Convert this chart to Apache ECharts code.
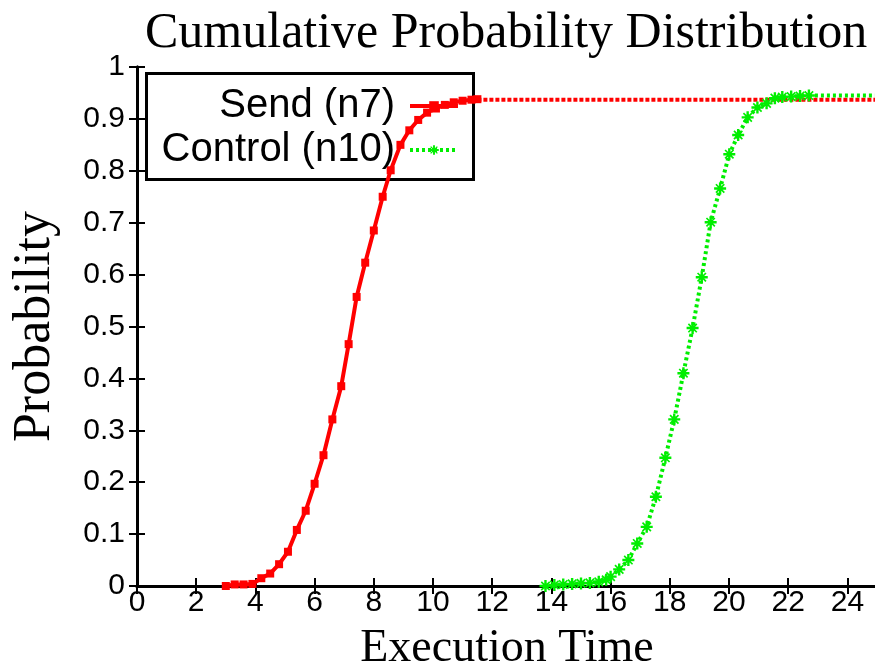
<!DOCTYPE html>
<html>
<head>
<meta charset="utf-8">
<script src="https://cdn.jsdelivr.net/npm/echarts@6/dist/echarts.min.js"></script>
<style>
  html, body { margin: 0; padding: 0; background: #fff; }
  #chart { width: 875px; height: 671px; }
</style>
</head>
<body>
<div id="chart"></div>
<script>
// values
const sendTime = [3.0, 3.3, 3.6, 3.9, 4.2, 4.5, 4.8, 5.1, 5.4, 5.7, 6.0, 6.3, 6.6, 6.9, 7.15, 7.42, 7.71, 8.0, 8.3, 8.57, 8.9, 9.2, 9.5, 9.8, 10.1, 10.4, 10.7, 11.0, 11.3, 11.5];
const sendProb = [0.0, 0.003, 0.003, 0.004, 0.015, 0.024, 0.042, 0.066, 0.108, 0.145, 0.197, 0.252, 0.321, 0.385, 0.466, 0.557, 0.623, 0.685, 0.75, 0.801, 0.85, 0.878, 0.898, 0.912, 0.92, 0.927, 0.932, 0.935, 0.937, 0.938];
const sendTailTime = [11.5, 25];
const sendTailProb = [0.937, 0.937];

const controlTime = [13.8, 14.1, 14.4, 14.7, 15.0, 15.3, 15.6, 15.85, 16.0, 16.29, 16.6, 16.9, 17.22, 17.53, 17.85, 18.15, 18.46, 18.77, 19.08, 19.38, 19.7, 20.01, 20.31, 20.63, 20.96, 21.27, 21.55, 21.8, 22.1, 22.4, 22.7];
const controlProb = [0.0, 0.002, 0.003, 0.004, 0.005, 0.006, 0.008, 0.012, 0.018, 0.032, 0.05, 0.082, 0.114, 0.172, 0.247, 0.321, 0.41, 0.497, 0.595, 0.701, 0.766, 0.832, 0.869, 0.903, 0.922, 0.93, 0.94, 0.942, 0.943, 0.944, 0.945];
const controlTailTime = [22.7, 25];
const controlTailProb = [0.945, 0.945];

const xTicks = [0, 2, 4, 6, 8, 10, 12, 14, 16, 18, 20, 22, 24];
const yTickLabels = ['0', '0.1', '0.2', '0.3', '0.4', '0.5', '0.6', '0.7', '0.8', '0.9', '1'];

const pair = (xs, ys) => xs.map((x, i) => [x, ys[i]]);

const RED = '#ff0000';
const GREEN = '#00ee00';
const ASTERISK = 'path://M4,0H6V4H10V6H6V10H4V6H0V4H4Z M1,2L2,1L9,8L8,9Z M8,1L9,2L2,9L1,8Z';

const chart = echarts.init(document.getElementById('chart'));

const axisLine = { show: true, lineStyle: { color: '#000', width: 3 } };
const tickInside = { show: true, inside: true, length: 8, lineStyle: { color: '#000', width: 2 } };
const legendText = { fontFamily: 'Liberation Sans', fontSize: 40, color: '#000', padding: [0, 10, 0, 0] };

const option = {
  animation: false,
  backgroundColor: '#fff',
  title: {
    text: 'Cumulative Probability Distribution',
    left: 140,
    top: 4,
    textStyle: { fontFamily: 'Liberation Serif', fontSize: 50, fontWeight: 'normal', color: '#000' }
  },
  grid: { left: 137, top: 67, width: 740, height: 519, outerBoundsMode: 'none' },
  legend: [
    {
      data: ['Send (n7)'],
      orient: 'vertical',
      right: 415,
      top: 86,
      padding: 0,
      align: 'right',
      itemWidth: 48,
      itemHeight: 12,
      lineStyle: { width: 4 },
      textStyle: legendText
    },
    {
      data: ['Control (n10)'],
      orient: 'vertical',
      right: 415,
      top: 130,
      padding: 0,
      align: 'right',
      itemWidth: 48,
      itemHeight: 12,
      lineStyle: { width: 4 },
      textStyle: legendText
    }
  ],
  graphic: [
    {
      type: 'rect',
      left: 145,
      top: 72,
      z: 1,
      shape: { width: 327, height: 106 },
      style: { fill: 'transparent', stroke: '#000', lineWidth: 3 }
    }
  ],
  xAxis: [
    {
      type: 'value',
      min: 0,
      max: 25,
      interval: 2,
      position: 'bottom',
      name: 'Execution Time',
      nameLocation: 'middle',
      nameGap: 40,
      nameTextStyle: { fontFamily: 'Liberation Serif', fontSize: 46, color: '#000' },
      axisLine: axisLine,
      axisTick: tickInside,
      splitLine: { show: false },
      axisLabel: {
        margin: 2,
        fontFamily: 'Liberation Sans',
        fontSize: 30,
        color: '#000',
        showMaxLabel: false,
        formatter: v => (xTicks.includes(v) ? String(v) : '')
      }
    },
    {
      type: 'value',
      min: 0,
      max: 25,
      interval: 2,
      position: 'top',
      axisLine: axisLine,
      axisTick: tickInside,
      splitLine: { show: false },
      axisLabel: { show: false }
    }
  ],
  yAxis: [
    {
      type: 'value',
      min: 0,
      max: 1,
      interval: 0.1,
      position: 'left',
      name: 'Probability',
      nameLocation: 'middle',
      nameGap: 76,
      nameTextStyle: { fontFamily: 'Liberation Serif', fontSize: 52, color: '#000' },
      axisLine: axisLine,
      axisTick: tickInside,
      splitLine: { show: false },
      axisLabel: {
        margin: 12,
        fontFamily: 'Liberation Sans',
        fontSize: 30,
        color: '#000',
        formatter: v => yTickLabels[Math.round(v * 10)]
      }
    },
    {
      type: 'value',
      min: 0,
      max: 1,
      interval: 0.1,
      position: 'right',
      axisLine: axisLine,
      axisTick: tickInside,
      splitLine: { show: false },
      axisLabel: { show: false }
    }
  ],
  series: [
    {
      name: 'Send (n7)',
      type: 'line',
      data: pair(sendTime, sendProb),
      showAllSymbol: true,
      symbol: 'rect',
      symbolSize: 8,
      itemStyle: { color: RED },
      lineStyle: { color: RED, width: 4 },
      z: 3
    },
    {
      name: 'Send tail',
      type: 'line',
      data: pair(sendTailTime, sendTailProb),
      symbol: 'none',
      lineStyle: { color: RED, width: 4, type: [4, 2] },
      z: 2
    },
    {
      name: 'Control (n10)',
      type: 'line',
      data: pair(controlTime, controlProb),
      showAllSymbol: true,
      symbol: ASTERISK,
      symbolSize: 12,
      itemStyle: { color: GREEN },
      lineStyle: { color: GREEN, width: 4, type: [3, 3] },
      z: 4
    },
    {
      name: 'Control tail',
      type: 'line',
      data: pair(controlTailTime, controlTailProb),
      symbol: 'none',
      lineStyle: { color: GREEN, width: 4, type: [3, 3] },
      z: 4
    }
  ]
};

chart.setOption(option);
</script>
</body>
</html>
